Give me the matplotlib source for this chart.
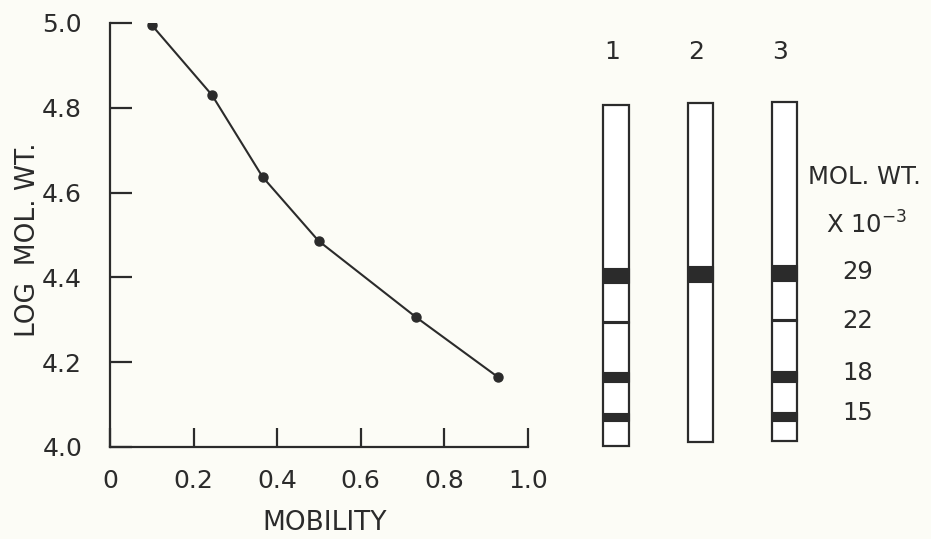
import matplotlib.pyplot as plt

# calibration curve: mobility vs log molecular weight
mobility = [0.10, 0.244, 0.365, 0.499, 0.731, 0.928]
log_mw = [4.995, 4.83, 4.637, 4.486, 4.307, 4.165]

x_ticks = [0, 0.2, 0.4, 0.6, 0.8, 1.0]
x_tick_labels = ["0", "0.2", "0.4", "0.6", "0.8", "1.0"]
y_ticks = [4.0, 4.2, 4.4, 4.6, 4.8, 5.0]
y_tick_labels = ["4.0", "4.2", "4.4", "4.6", "4.8", "5.0"]

# gel lanes (migration distance, arbitrary units from top of picture)
lanes = [1, 2, 3]
lane_names = ["1", "2", "3"]
lane_top = [105, 103, 102]
lane_bottom = [446, 442, 441]

# bands per lane: (position, thickness)
bands = {
    1: [(275.5, 15), (322, 2), (376.5, 10), (417, 8)],
    2: [(274, 16)],
    3: [(273, 16), (320, 2.5), (376, 11), (416.5, 9)],
}
marker_names = ["29", "22", "18", "15"]
marker_pos = [272, 321, 373, 413]

ink = "#2b2b2b"
paper = "#fcfcf6"
plt.rcParams['font.family'] = ['DejaVu Sans']

fig = plt.figure(figsize=(9.31, 5.39), dpi=100, facecolor=paper)

# left panel
ax = fig.add_axes([110/931, 1-447/539, 418/931, 424/539])
ax.set_facecolor(paper)
ax.plot(mobility, log_mw, color=ink, lw=1.5, marker="o", ms=6.5, mfc=ink, mec=ink)
ax.set_xlim(0, 1.0)
ax.set_ylim(4.0, 5.0)
ax.spines[["top", "right"]].set_visible(False)
for s in ["left", "bottom"]:
    ax.spines[s].set_color(ink)
    ax.spines[s].set_linewidth(1.6)
ax.set_xticks(x_ticks)
ax.set_xticklabels(x_tick_labels)
ax.set_yticks(y_ticks)
ax.set_yticklabels(y_tick_labels)
ax.tick_params(axis="x", direction="in", length=14, width=1.6, color=ink,
               labelsize=18, labelcolor=ink, pad=16)
ax.tick_params(axis="y", direction="in", length=16, width=1.6, color=ink,
               labelsize=18, labelcolor=ink, pad=20)
ax.set_xlabel("MOBILITY", fontsize=19, color=ink)
ax.xaxis.label.set_va("center")
ax.xaxis.set_label_coords(0.514, -0.179)
ax.set_ylabel("LOG  MOL. WT.", fontsize=19, color=ink)
ax.yaxis.label.set_va("center")
ax.yaxis.set_label_coords(-0.196, 0.49)

# right panel: gel
gx = fig.add_axes([580/931, 1-460/539, 351/931, 430/539])
gx.set_xlim(0.5727, 4.739)
gx.set_ylim(460, 30)
gx.axis("off")
lane_w = 0.30
for ln, top, bot in zip(lanes, lane_top, lane_bottom):
    gx.bar(ln, bot-top, bottom=top, width=lane_w, color="white",
           edgecolor=ink, lw=1.6)
    for pos, th in bands[ln]:
        gx.bar(ln, th, bottom=pos-th/2, width=lane_w, color=ink, edgecolor=ink, lw=0.8)
for ln, name in zip(lanes, lane_names):
    gx.text(ln-0.05, 52, name, ha="center", va="center", fontsize=18, color=ink)

gx.text(3.944, 177, "MOL. WT.", ha="center", va="center", fontsize=17.5, color=ink)
gx.text(3.98, 225, r"X 10$^{-3}$", ha="center", va="center", fontsize=17.5, color=ink)
for name, pos in zip(marker_names, marker_pos):
    gx.text(3.866, pos, name, ha="center", va="center", fontsize=17.5, color=ink)

fig.savefig("out.png", dpi=100, facecolor=paper)
